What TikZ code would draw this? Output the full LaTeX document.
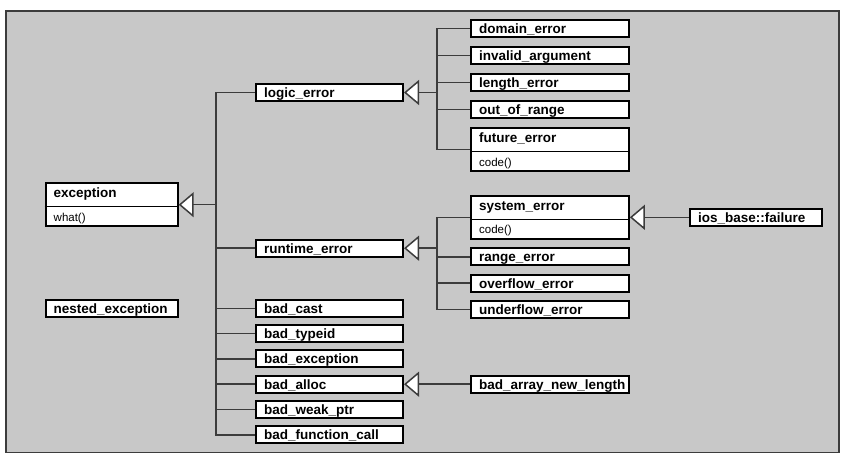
\documentclass[tikz,border=0pt]{standalone}
\usepackage{fontspec}
\setmainfont{Liberation Sans}
\usepackage{xcolor}
\usetikzlibrary{arrows.meta,positioning,shapes.multipart}

\definecolor{panelgray}{HTML}{C8C8C8}
\definecolor{linegray}{HTML}{3C3C3C}
\newcommand\method[1]{\mdseries\fontsize{11.5}{13}\selectfont #1}
\newcommand\headstrut{\rule[-8pt]{0pt}{21.7pt}}
\newcommand\methodstrut{\rule[-4pt]{0pt}{17.6pt}}

\begin{document}
\begin{tikzpicture}[
    x=1pt, y=1pt,
    cls/.style={draw=black, line width=2pt, fill=white, text width=#1, inner xsep=8pt, inner ysep=0pt, align=left, font=\bfseries\fontsize{13.5}{15}\selectfont},
    box/.style={cls=#1, text height=13.5pt, text depth=3.5pt},
    splitbox/.style={cls=#1, rectangle split, rectangle split parts=2, rectangle split draw splits=false},
    link/.style={draw=linegray, line width=1.5pt},
    inherit/.style={link, -{Triangle[length=15pt, width=25pt, fill=white]}},
    node distance=8pt
]

\useasboundingbox (0,0) rectangle (848,-464);
\draw[draw=linegray, fill=panelgray, line width=1.5pt] (6,-11) rectangle (839,-452.7);

% root
\node[splitbox=116pt] (exc) at (111.7,-204.7) {exception\headstrut \nodepart{two}\method{what()}\methodstrut};
\node[box=116pt] (nested) at (111.7,-308) {nested\_exception};

% direct children of exception
\node[box=131pt] (logic) at (329.5,-92.5) {logic\_error};
\node[box=131pt] (runtime) at (329.5,-248.2) {runtime\_error};
\node[box=131pt] (badcast) at (329.5,-308.3) {bad\_cast};
\node[box=131pt, below=6.3pt of badcast] (badtypeid) {bad\_typeid};
\node[box=131pt, below=6.3pt of badtypeid] (badexc) {bad\_exception};
\node[box=131pt, below=6.3pt of badexc] (badalloc) {bad\_alloc};
\node[box=131pt, below=6.3pt of badalloc] (badweak) {bad\_weak\_ptr};
\node[box=131pt, below=6.3pt of badweak] (badfunc) {bad\_function\_call};

% logic_error family
\node[box=141.7pt] (domain) at (550,-28.5) {domain\_error};
\node[box=141.7pt, below=of domain] (invalid) {invalid\_argument};
\node[box=141.7pt, below=of invalid] (length) {length\_error};
\node[box=141.7pt, below=of length] (outofrange) {out\_of\_range};
\node[splitbox=141.7pt, below=of outofrange] (future) {future\_error\headstrut \nodepart{two}\method{code()}\methodstrut};

% runtime_error family
\node[splitbox=141.7pt] (system) at (550,-217.3) {system\_error\headstrut \nodepart{two}\method{code()}\methodstrut};
\node[box=141.7pt, below=7.3pt of system] (range) {range\_error};
\node[box=141.7pt, below=7.3pt of range] (overflow) {overflow\_error};
\node[box=141.7pt, below=7.3pt of overflow] (underflow) {underflow\_error};

\node[box=115.4pt, right=59.3pt of system] (ios) {ios\_base::failure};
\node[box=141.7pt, right=66pt of badalloc] (badarray) {bad\_array\_new\_length};

% dividers of the split boxes
\draw[line width=0.8pt] (exc.one split west) -- (exc.one split east);
\draw[line width=0.8pt] (future.one split west) -- (future.one split east);
\draw[line width=0.8pt] (system.one split west) -- (system.one split east);

% junctions
\coordinate (excj) at ([xshift=37.3pt]exc.east);
\coordinate (logicj) at ([xshift=33pt]logic.east);
\coordinate (runtimej) at ([xshift=33pt]runtime.east);

\draw[link] (logic.west) -| (excj);
\draw[link] (runtime.west) -| (excj);
\draw[link] (badcast.west) -| (excj);
\draw[link] (badtypeid.west) -| (excj);
\draw[link] (badexc.west) -| (excj);
\draw[link] (badalloc.west) -| (excj);
\draw[link] (badweak.west) -| (excj);
\draw[link] (badfunc.west) -| (excj);
\draw[inherit] (excj) -- (exc.east);

\draw[link] (domain.west) -| (logicj);
\draw[link] (invalid.west) -| (logicj);
\draw[link] (length.west) -| (logicj);
\draw[link] (outofrange.west) -| (logicj);
\draw[link] (future.west) -| (logicj);
\draw[inherit] (logicj) -- (logic.east);

\draw[link] (system.west) -| (runtimej);
\draw[link] (range.west) -| (runtimej);
\draw[link] (overflow.west) -| (runtimej);
\draw[link] (underflow.west) -| (runtimej);
\draw[inherit] (runtimej) -- (runtime.east);

\draw[inherit] (ios.west) -- (system.east);
\draw[inherit] (badarray.west) -- (badalloc.east);

\end{tikzpicture}
\end{document}
